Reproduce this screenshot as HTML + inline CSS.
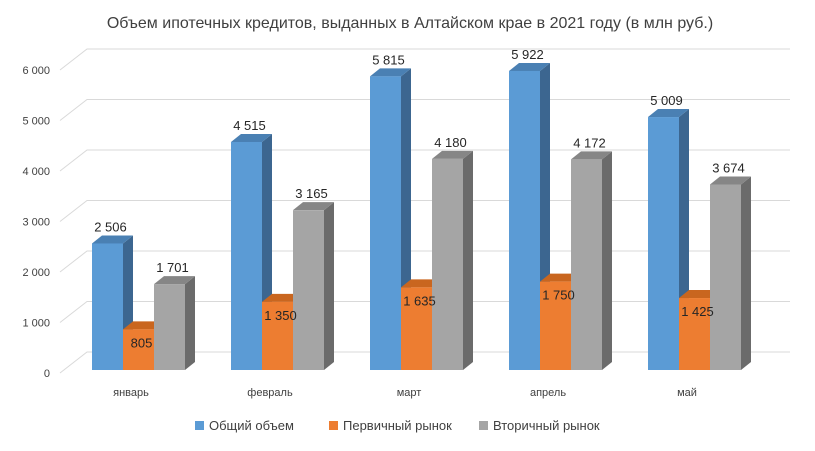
<!DOCTYPE html>
<html><head><meta charset="utf-8"><style>
body{margin:0;background:#fff;font-family:"Liberation Sans",sans-serif}
</style></head><body>
<svg id="c" width="815" height="446" xmlns="http://www.w3.org/2000/svg" font-family="Liberation Sans, sans-serif">
<text x="410" y="28" text-anchor="middle" font-size="16" fill="#404040">Объем ипотечных кредитов, выданных в Алтайском крае в 2021 году (в млн руб.)</text>
<g id="grid"></g><g id="bars"></g>
<g font-size="13" fill="#404040">
<rect x="195" y="421" width="9" height="9" fill="#5b9bd5"/><text x="209" y="430">Общий объем</text>
<rect x="329" y="421" width="9" height="9" fill="#ed7d31"/><text x="343" y="430">Первичный рынок</text>
<rect x="479" y="421" width="9" height="9" fill="#a5a5a5"/><text x="493" y="430">Вторичный рынок</text>
</g>
</svg>
<script>
const categories=["январь","февраль","март","апрель","май"];
const total=[2506,4515,5815,5922,5009];
const primary=[805,1350,1635,1750,1425];
const secondary=[1701,3165,4180,4172,3674];
const ticks=[0,1000,2000,3000,4000,5000,6000];
const tickLabels=["0","1 000","2 000","3 000","4 000","5 000","6 000"];
const NS="http://www.w3.org/2000/svg";
const base=370, scale=0.0505, dx=10, dy=8, bw=31, x0=92, step=139;
const y=v=>base-v*scale;
function mk(t,a,p){const e=document.createElementNS(NS,t);for(const k in a)e.setAttribute(k,a[k]);p.appendChild(e);return e;}
const grid=document.getElementById('grid'), bars=document.getElementById('bars');
ticks.forEach((t,i)=>{
 const yy=y(t)+3;
 const l=mk('polyline',{points:`60,${yy} ${60+27},${yy-21} 790,${yy-21}`,fill:'none',stroke:'#d9d9d9','stroke-width':1},grid);
 
 
 const tx=mk('text',{x:50,y:yy+4,'text-anchor':'end','font-size':11,fill:'#404040'},grid);
 tx.textContent=tickLabels[i];
 
 
});
const series=[[total,'#5b9bd5','#4a80b3','#3c6690','total'],[primary,'#ed7d31','#c9661f','#a9561b','primary'],[secondary,'#a5a5a5','#868686','#6b6b6b','secondary']];
categories.forEach((c,i)=>{
 const gx=x0+i*step;
 series.forEach((s,j)=>{
  const v=s[0][i], x=gx+j*bw, top=y(v);
  const g=mk('g',{},bars);
  
  
  mk('polygon',{points:`${x+bw},${top} ${x+bw+dx},${top-dy} ${x+bw+dx},${base-dy} ${x+bw},${base}`,fill:s[3]},g);
  mk('polygon',{points:`${x},${top} ${x+dx},${top-dy} ${x+bw+dx},${top-dy} ${x+bw},${top}`,fill:s[2]},g);
  mk('rect',{x:x,y:top,width:bw,height:base-top,fill:s[1]},g);
 });
 series.forEach((s,j)=>{
  const v=s[0][i], x=gx+j*bw, top=y(v);
  const ly = j==1 ? top+18 : top-12;
  const t=mk('text',{x:x+bw/2+3,y:ly,'text-anchor':'middle','font-size':13,fill:'#262626'},bars);
  t.textContent=v.toLocaleString('ru-RU').replace(/\s/g,' ');
  
  
 });
 const cl=mk('text',{x:gx+39,y:396,'text-anchor':'middle','font-size':11,fill:'#404040'},bars);
 cl.textContent=c;
 
 
});
</script>
</body></html>
